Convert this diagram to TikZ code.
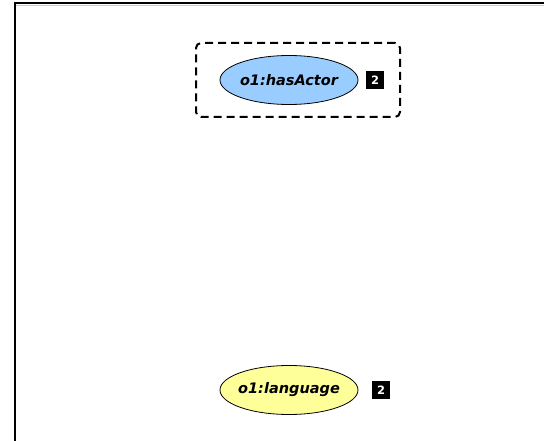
\documentclass[tikz,border=0pt]{standalone}
\usepackage{fontspec}
\setmainfont{DejaVu Sans}
\usetikzlibrary{shapes.geometric}
\definecolor{propblue}{HTML}{99CCFF}
\definecolor{propyellow}{HTML}{FFFF99}
\tikzset{
  prop/.style={ellipse, draw=black, line width=0.8pt, minimum width=138pt, minimum height=49pt, inner sep=-4pt, font=\bfseries\itshape\fontsize{14.5}{16}\selectfont},
  card/.style={fill=black, text=white, minimum size=18pt, inner sep=0pt, font=\bfseries\fontsize{11.5}{13}\selectfont},
  grp/.style={draw=black, dashed, dash pattern=on 8pt off 5pt, line width=2pt, rounded corners=5pt}
}
\begin{document}
\begin{tikzpicture}[x=1pt,y=-1pt]
\useasboundingbox (0,0) rectangle (544,441);
\draw[line width=1.2pt] (15,441) -- (15,3) -- (544,3);
\draw[gray!40, line width=0.6pt] (16,5) -- (544,5);
\node[grp, minimum width=204pt, minimum height=74pt] (box) at (298,80) {};
\node[prop, fill=propblue] (actor) at (289,80) {o1:hasActor};
\node[card] (c1) at (375,80) {2};
\node[prop, fill=propyellow] (lang) at (289,390) {o1:language};
\node[card] (c2) at (381,390) {2};
\end{tikzpicture}
\end{document}
